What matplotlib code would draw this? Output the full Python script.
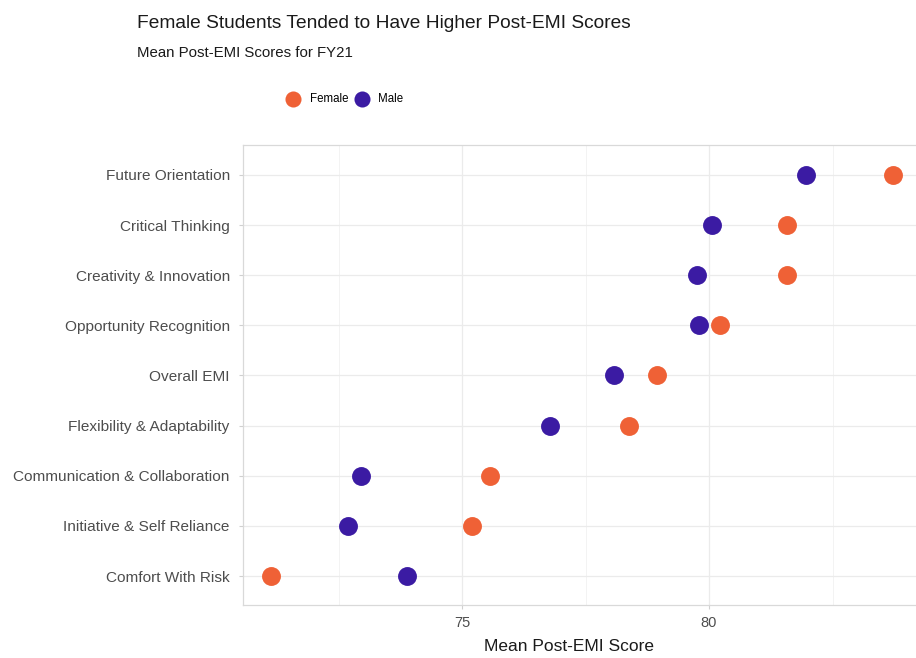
import matplotlib.pyplot as plt
import numpy as np

plt.rcParams['font.family'] = ['Liberation Sans', 'DejaVu Sans']

# data (bottom to top)
categories = ['Comfort With Risk', 'Initiative & Self Reliance', 'Communication & Collaboration',
              'Flexibility & Adaptability', 'Overall EMI', 'Opportunity Recognition',
              'Creativity & Innovation', 'Critical Thinking', 'Future Orientation']
female = [71.13, 75.20, 75.57, 78.38, 78.95, 80.22, 81.58, 81.58, 83.72]
male = [73.89, 72.69, 72.96, 76.78, 78.08, 79.80, 79.76, 80.06, 81.96]

female_col = '#EF6136'
male_col = '#3B1BA3'

fig = plt.figure(figsize=(9.16, 6.58), dpi=100)
ax = fig.add_axes([0.2653, 0.081, 0.7347, 0.699])

y = np.arange(len(categories))
ax.scatter(female, y, s=185, color=female_col, label='Female', zorder=3, linewidths=0)
ax.scatter(male, y, s=185, color=male_col, label='Male', zorder=3, linewidths=0)

ax.set_xlim(70.567, 84.19)
ax.set_ylim(-0.57, 8.6)
ax.set_yticks(y, categories)
ax.set_xticks([75, 80])
ax.set_xticks([72.5, 77.5, 82.5], minor=True)
ax.grid(True, which='major', color='#ebebeb', lw=0.9)
ax.grid(True, which='minor', axis='x', color='#f3f3f3', lw=0.7)
ax.set_axisbelow(True)

for s in ['left', 'top', 'bottom']:
    ax.spines[s].set_color('#d9d9d9')
    ax.spines[s].set_linewidth(0.9)
ax.spines['right'].set_visible(False)

ax.tick_params(axis='both', which='major', colors='#d0d0d0', length=3, labelcolor='#4d4d4d')
ax.tick_params(axis='y', labelsize=11.1, pad=6.5)
ax.tick_params(axis='x', labelsize=10.5, pad=5)
ax.tick_params(axis='x', which='minor', length=0)
ax.set_xlabel('Mean Post-EMI Score', fontsize=12.5, color='#1a1a1a')
ax.xaxis.set_label_coords(0.485, -0.075)

fig.text(0.1495, 0.965, 'Female Students Tended to Have Higher Post-EMI Scores', fontsize=13.8, color='#1a1a1a', va='center')
fig.text(0.1495, 0.92, 'Mean Post-EMI Scores for FY21', fontsize=10.8, color='#1a1a1a', va='center')

fig.legend(loc='center', bbox_to_anchor=(0.374, 0.849), ncol=2, frameon=False, fontsize=8.3,
           handletextpad=0.45, columnspacing=0.15, markerscale=0.85)

fig.savefig('out.png', dpi=100, facecolor='white')
